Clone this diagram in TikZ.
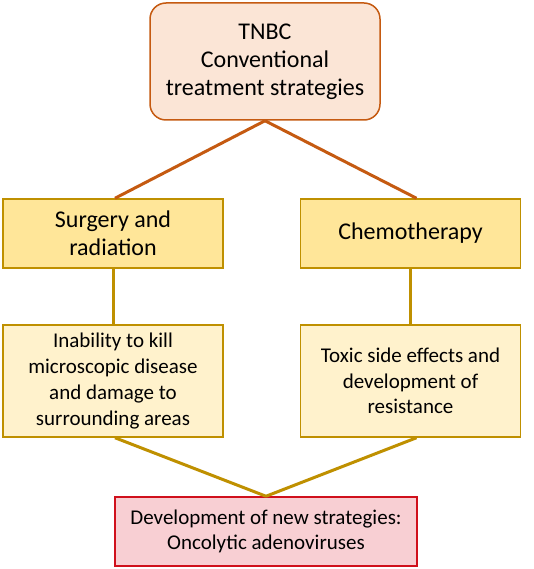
\documentclass[tikz,border=0pt]{standalone}
\usepackage{fontspec}
\setmainfont{Carlito}
\usetikzlibrary{positioning}

\definecolor{peach}{HTML}{FBE5D6}
\definecolor{rust}{HTML}{C55A11}
\definecolor{gold}{HTML}{FFE699}
\definecolor{darkgold}{HTML}{BF9000}
\definecolor{cream}{HTML}{FFF2CC}
\definecolor{rose}{HTML}{F8CFD3}
\definecolor{deepred}{HTML}{D0101C}

\tikzset{
  topbox/.style={draw=rust, fill=peach, line width=1.5pt, rounded corners=16pt,
    minimum width=230pt, minimum height=117pt, align=center,
    font=\fontsize{24}{28}\selectfont},
  treatbox/.style={draw=darkgold, fill=gold, line width=1.5pt,
    minimum width=220pt, minimum height=69pt, align=center,
    font=\fontsize{24}{28}\selectfont},
  issuebox/.style={draw=darkgold, fill=cream, line width=1.5pt,
    minimum width=220pt, minimum height=112pt, align=center,
    font=\fontsize{21}{25.7}\selectfont},
  newbox/.style={draw=deepred, fill=rose, line width=1.5pt,
    minimum width=302pt, minimum height=69pt, align=center,
    font=\fontsize{21}{25.7}\selectfont},
  link/.style={line width=3pt}
}

\begin{document}
\begin{tikzpicture}[x=1pt, y=-1pt]

\useasboundingbox (0,0) rectangle (533,569);

% --- Nodi ---
\node[topbox] (tnbc) at (265,61.5) {TNBC\\Conventional\\treatment strategies};

\node[treatbox] (surg) at (113,233.5) {Surgery and\\radiation};
\node[treatbox] (chemo) at (410.5,233.5) {Chemotherapy};

\node[issuebox] (inab) at (113,381) {Inability to kill\\microscopic disease\\and damage to\\surrounding areas};
\node[issuebox] (toxic) at (410.5,381) {Toxic side effects and\\development of\\resistance};

\node[newbox] (new) at (266,531.5) {Development of new strategies:\\Oncolytic adenoviruses};

% --- Collegamenti ---
\draw[link, rust] (tnbc.south) -- ([xshift=2pt]surg.north);
\draw[link, rust] (tnbc.south) -- ([xshift=6pt]chemo.north);

\draw[link, darkgold] (surg.south) -- (inab.north);
\draw[link, darkgold] (chemo.south) -- (toxic.north);

\draw[link, darkgold] ([xshift=2pt]inab.south) -- (new.north);
\draw[link, darkgold] ([xshift=6pt]toxic.south) -- (new.north);

\end{tikzpicture}
\end{document}
